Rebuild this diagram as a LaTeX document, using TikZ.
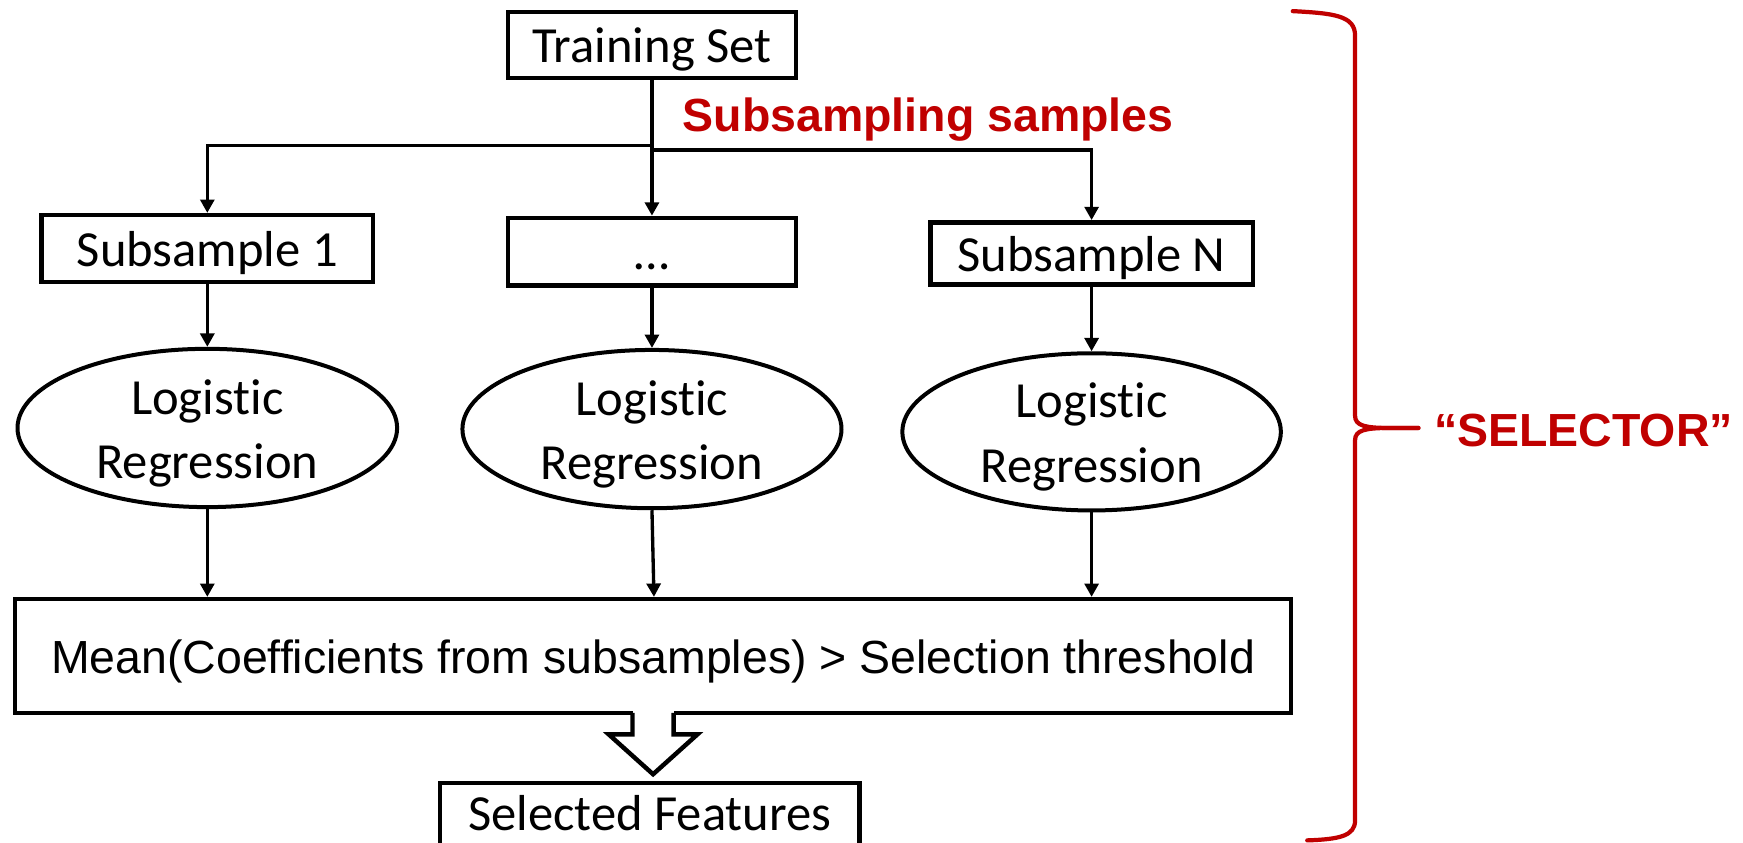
\documentclass[tikz,border=0pt]{standalone}
\usepackage{fontspec}
\setmainfont{Carlito}[Ligatures=NoCommon]
\newfontfamily\arialf{Liberation Sans}[Ligatures=NoCommon]
\usetikzlibrary{shapes.geometric,arrows.meta,calc}
\definecolor{selred}{HTML}{C00000}
\newcommand\carlsize{\fontsize{45.5}{58}\selectfont}
\newcommand\ariasize{\fontsize{41.8}{50}\selectfont}
\begin{document}
\begin{tikzpicture}[x=1pt,y=-1pt,
  box/.style={draw,rectangle,line width=4pt,inner sep=0pt,
    text height=32pt,text depth=0pt,font=\carlsize},
  oval/.style={draw,ellipse,line width=3.6pt,inner sep=0pt},
  ovaltext/.style={anchor=base,inner sep=0pt,font=\carlsize},
  link/.style={line width=3pt,-{Triangle[length=12pt,width=12.5pt]}},
  redlabel/.style={anchor=base west,inner sep=0pt,text=selred,
    font=\arialf\bfseries\ariasize},
  bracepath/.style={draw=selred,line width=3.8pt,line cap=round,line join=round}]

\useasboundingbox (0,0) rectangle (1568,758);
\fill[white] (0,0) rectangle (1568,758);
\clip (0,0) rectangle (1568,758);

% source and subsample boxes
\node[box,minimum width=259pt,minimum height=59pt] (train) at (586.5,40.5) {Training Set};
\node[box,minimum width=298.5pt,minimum height=60pt] (sub1) at (186.5,223.5) {Subsample 1};
\node[box,minimum width=259pt,minimum height=61pt] (subdots) at (586.5,226.5) {…};
\node[box,minimum width=290pt,minimum height=56pt] (subN) at (982,228) {Subsample N};

% one logistic regression per subsample
\node[oval,minimum width=341.5pt,minimum height=142.4pt] (lr1) at (186.5,385) {};
\node[oval,minimum width=341pt,minimum height=142.4pt] (lr2) at (586.5,386) {};
\node[oval,minimum width=340.5pt,minimum height=141.4pt] (lr3) at (982,388.5) {};
\foreach \e in {lr1,lr2,lr3}{
  \node[ovaltext] (\e a) at ($(\e.center)+(0,-12.5)$) {Logistic};
  \node[ovaltext] (\e b) at ($(\e.center)+(0,45.5)$) {Regression};
}

% aggregation and result
\node[box,line width=3.6pt,minimum width=1148pt,minimum height=102.5pt,
  text height=31.4pt,font=\arialf\ariasize] (mean) at (587.5,590)
  {Mean(Coefficients from subsamples) > Selection threshold};
\node[box,minimum width=377pt,minimum height=64pt,text height=21pt] (sel) at (584.5,736.5) {Selected Features};

% distribution of the training set
\coordinate (splitL) at (586.5,131);
\coordinate (splitR) at (586.5,135);
\draw[link] (train.south) -- (subdots.north);
\draw[link] (splitL) -| (sub1.north);
\draw[link] (splitR) -| (subN.north);
\node[redlabel] (subsampling) at (614,118.5) {Subsampling samples};

% subsamples into the regressions
\draw[link] (sub1.south) -- (sub1.south |- lr1.north);
\draw[link] (subdots.south) -- (subdots.south |- lr2.north);
\draw[link] (subN.south) -- (subN.south |- lr3.north);

% regressions into the mean test
\draw[link] (lr1.south) -- (lr1.south |- mean.north);
\draw[link] (lr2.south) -- ($(lr2.south |- mean.north)+(1.8,0)$);
\draw[link] (lr3.south) -- (lr3.south |- mean.north);

% hollow block arrow from the test to the selected features
\coordinate (arrtop) at (mean.south);
\coordinate (arrtip) at ($(mean.south |- sel.north)+(0,-6)$);
\fill[white] ($(arrtop)+(-18.5,-4.5)$) rectangle ($(arrtop)+(18.5,17.5)$);
\draw[line width=4pt,fill=white]
  ($(arrtop)+(-18.5,-1.8)$) -- ($(arrtop)+(-18.5,17.5)$) -- ($(arrtop)+(-40,17.5)$)
  -- (arrtip) -- ($(arrtop)+(40,17.5)$) -- ($(arrtop)+(18.5,17.5)$)
  -- ($(arrtop)+(18.5,-1.8)$);

% curly brace around the whole selector
\coordinate (bracetip) at (1276,385);
\draw[bracepath] (1163,10) .. controls (1200,12) and (1219,14) .. (1219,32)
  -- (1219,374) .. controls (1219,383) and (1228,385) .. (1250,385) -- (bracetip);
\draw[bracepath] (bracetip) -- (1250,385) .. controls (1228,385) and (1219,387) .. (1219,396)
  -- (1219,738) .. controls (1219,752) and (1205,755) .. (1176,756);
\node[redlabel] (selector) at (1290,402) {“SELECTOR”};
\end{tikzpicture}
\end{document}
